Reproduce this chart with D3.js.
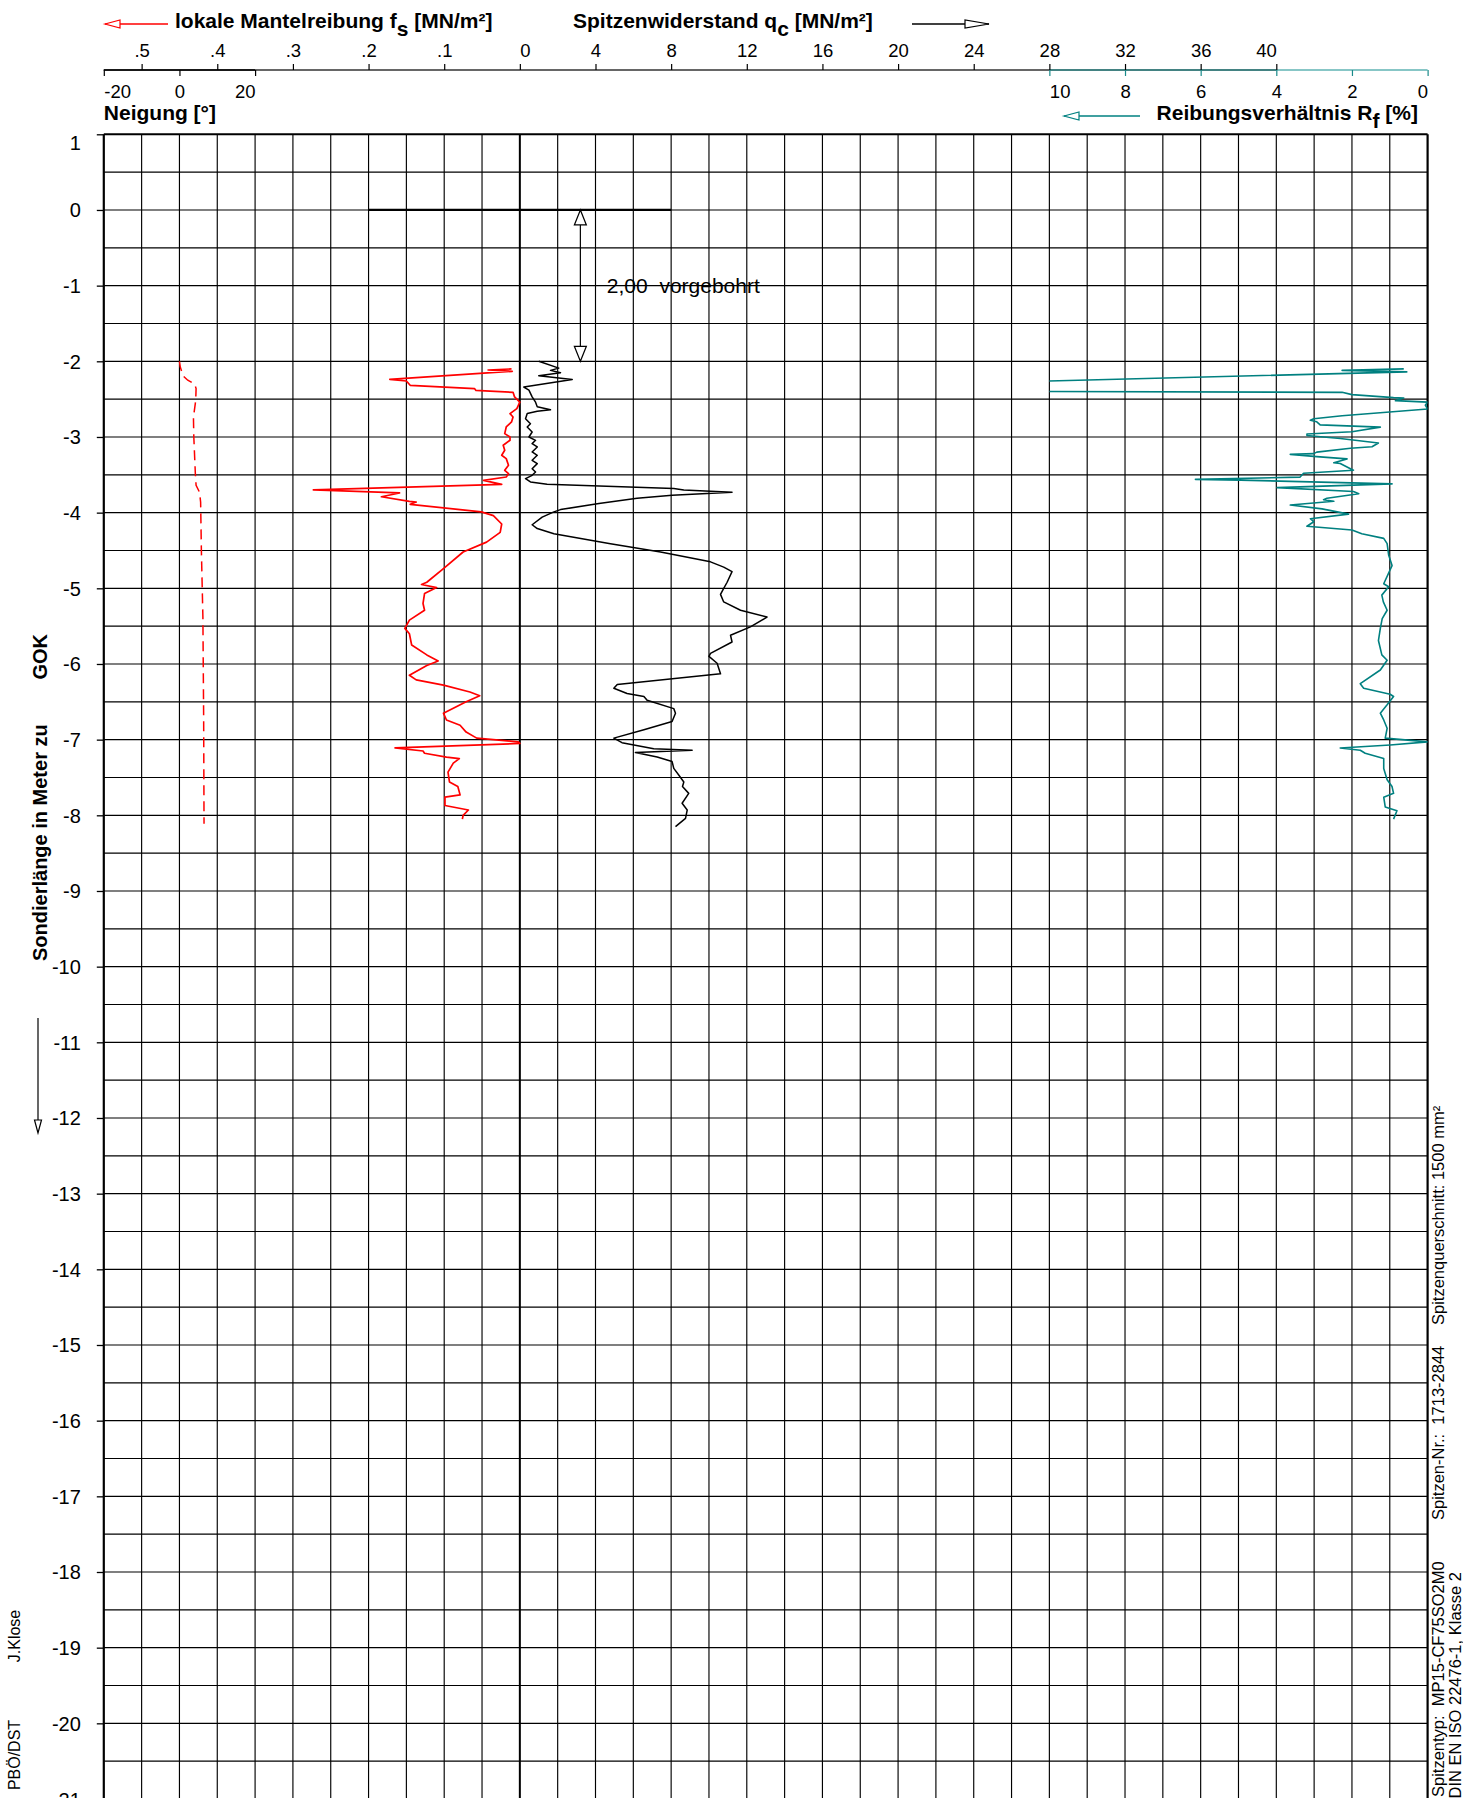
<!DOCTYPE html>
<html><head><meta charset="utf-8">
<script src="https://cdn.jsdelivr.net/npm/d3@7"></script>
<style>
html,body{margin:0;padding:0;background:#fff;}
svg{display:block;}
text{font-family:"Liberation Sans",Arial,Helvetica,sans-serif;fill:#000;}
</style></head><body>
<svg id="chart" width="1463" height="1798"></svg>
<script>
// ---------- tick labels ----------
const fsTicks = [0.5, 0.4, 0.3, 0.2, 0.1];
const fsTickLabels = [".5", ".4", ".3", ".2", ".1"];
const qcTicks = [0, 4, 8, 12, 16, 20, 24, 28, 32, 36, 40];
const neigTicks = [-20, 0, 20];
const rfTicks = [10, 8, 6, 4, 2, 0];
const depthTicks = [1, 0, -1, -2, -3, -4, -5, -6, -7, -8, -9, -10, -11, -12, -13, -14, -15, -16, -17, -18, -19, -20, -21];

// ---------- series ----------
// local sleeve friction fs [MN/m²]
const fsDepth = [-2.101,-2.115,-2.132,-2.238,-2.26,-2.317,-2.36,-2.385,-2.39,-2.41,-2.47,-2.52,-2.54,-2.626,-2.692,-2.736,-2.802,-2.868,-2.956,-3.0,-3.044,-3.11,-3.176,-3.242,-3.286,-3.374,-3.44,-3.485,-3.529,-3.573,-3.626,-3.70,-3.74,-3.79,-3.85,-3.86,-3.89,-3.96,-3.99,-4.04,-4.15,-4.26,-4.39,-4.52,-4.74,-4.92,-4.95,-4.99,-5.07,-5.20,-5.29,-5.42,-5.53,-5.60,-5.75,-5.88,-5.96,-6.02,-6.15,-6.21,-6.28,-6.37,-6.42,-6.50,-6.65,-6.74,-6.81,-6.90,-6.98,-7.03,-7.05,-7.11,-7.15,-7.18,-7.23,-7.25,-7.31,-7.43,-7.56,-7.62,-7.73,-7.76,-7.87,-7.93,-8.00,-8.05];
const fsValue = [0.011,0.042,0.010,0.172,0.150,0.145,0.060,0.058,0.046,0.009,0.007,0.002,0.000,0.004,0.013,0.009,0.011,0.018,0.020,0.013,0.013,0.022,0.020,0.024,0.018,0.015,0.020,0.015,0.018,0.048,0.024,0.273,0.159,0.183,0.146,0.137,0.145,0.079,0.051,0.035,0.024,0.026,0.044,0.075,0.101,0.123,0.130,0.110,0.126,0.128,0.126,0.146,0.152,0.146,0.143,0.123,0.108,0.123,0.146,0.137,0.101,0.066,0.053,0.071,0.101,0.097,0.079,0.071,0.057,0.002,0.000,0.165,0.128,0.126,0.097,0.080,0.088,0.095,0.093,0.082,0.079,0.099,0.099,0.068,0.075,0.076];

// cone resistance qc [MN/m²]
const qcDepth = [-2.00,-2.09,-2.12,-2.15,-2.19,-2.24,-2.34,-2.38,-2.47,-2.54,-2.60,-2.64,-2.66,-2.69,-2.758,-2.824,-2.868,-2.934,-3.0,-3.044,-3.088,-3.132,-3.198,-3.242,-3.308,-3.352,-3.419,-3.463,-3.507,-3.551,-3.595,-3.626,-3.68,-3.70,-3.73,-3.77,-3.81,-3.88,-3.96,-3.99,-4.06,-4.16,-4.21,-4.28,-4.41,-4.52,-4.65,-4.72,-4.78,-4.92,-5.00,-5.08,-5.18,-5.29,-5.38,-5.51,-5.62,-5.71,-5.86,-5.90,-5.99,-6.13,-6.19,-6.27,-6.32,-6.39,-6.43,-6.48,-6.59,-6.65,-6.76,-6.87,-6.98,-7.04,-7.12,-7.14,-7.17,-7.23,-7.29,-7.38,-7.47,-7.56,-7.62,-7.71,-7.84,-7.93,-8.04,-8.15];
const qcValue = [1.00,2.06,1.62,2.15,1.00,2.77,0.21,0.48,0.65,0.83,0.92,1.62,0.92,0.39,0.30,0.56,0.39,0.65,0.48,0.83,0.65,0.92,0.65,0.92,0.65,0.92,0.65,0.83,0.65,0.30,0.56,1.44,8.14,8.67,11.22,8.05,6.20,4.18,2.15,1.80,1.18,0.65,0.92,1.80,4.79,7.44,10.08,10.78,11.22,10.96,10.78,10.61,10.78,11.67,13.07,12.19,11.14,11.22,10.08,10.00,10.43,10.61,8.32,5.15,4.97,5.67,6.56,6.73,8.14,8.23,8.05,6.56,4.97,5.40,7.08,9.11,6.11,7.26,8.05,8.14,8.41,8.67,8.60,8.93,8.58,8.85,8.76,8.23];

// friction ratio Rf [%]
const rfDepth = [-2.10,-2.12,-2.14,-2.285,-2.395,-2.41,-2.44,-2.48,-2.485,-2.52,-2.54,-2.58,-2.63,-2.72,-2.76,-2.78,-2.80,-2.84,-2.87,-2.93,-2.96,-2.98,-3.02,-3.08,-3.13,-3.15,-3.20,-3.22,-3.23,-3.26,-3.29,-3.34,-3.35,-3.42,-3.44,-3.48,-3.53,-3.56,-3.57,-3.62,-3.67,-3.72,-3.75,-3.81,-3.83,-3.85,-3.90,-3.95,-4.02,-4.08,-4.12,-4.18,-4.23,-4.28,-4.34,-4.41,-4.56,-4.70,-4.94,-4.98,-5.09,-5.18,-5.29,-5.40,-5.53,-5.69,-5.88,-5.95,-6.08,-6.26,-6.32,-6.40,-6.43,-6.54,-6.65,-6.74,-6.85,-6.98,-7.03,-7.07,-7.11,-7.14,-7.18,-7.25,-7.38,-7.53,-7.62,-7.71,-7.76,-7.89,-7.94,-8.05];
const rfValue = [0.63,2.26,0.55,12,12,2.26,2.00,0.90,0.63,0.85,0.00,0.06,0.00,2.26,3.01,3.10,2.93,2.84,1.25,2.00,3.19,3.19,2.31,1.30,1.47,2.04,2.93,3.01,3.63,2.93,2.13,2.48,2.31,2.04,1.96,3.28,3.37,6.14,4.95,0.94,3.98,1.96,1.82,2.66,2.75,2.48,3.63,2.79,2.09,3.10,3.01,3.19,2.00,1.74,1.16,1.07,1.03,0.94,1.16,1.03,1.21,1.17,1.07,1.20,1.25,1.30,1.21,1.07,1.25,1.78,1.69,0.99,0.90,1.07,1.25,1.16,1.07,1.12,0.00,0.99,2.31,1.78,1.65,1.16,1.16,1.07,0.94,0.90,1.16,1.12,0.81,0.90];

// inclination [°]
const neigDepth = [-2.00,-2.07,-2.19,-2.25,-2.30,-2.36,-2.52,-2.74,-3.00,-3.48,-3.64,-3.73,-3.86,-4.50,-5.38,-6.70,-8.11];
const neigValue = [0,0.2,0.9,2.2,4.0,4.4,4.3,3.7,3.8,4.2,4.4,5.3,5.6,5.8,6.2,6.4,6.5];

// pre-drilled section
const predrillTop = 0, predrillBottom = -2;

// ---------- layout ----------
const W = 1463, H = 1798;
const X0 = 103.8, X1 = 1427.6, Y0 = 134.3, Y1 = 1799;
const AXY = 70;
const fmtInt = d => String(d);   // plain hyphen minus like the reference

const qc = d3.scaleLinear().domain([-22, 48]).range([X0, X1]);
const fs = d3.scaleLinear().domain([0.55, 0]).range([X0, qc(0)]);
const neig = d3.scaleLinear().domain([-20, 20]).range([X0, qc(-14)]);
const rf = d3.scaleLinear().domain([10, 0]).range([qc(28), X1]);
const y = d3.scaleLinear().domain([1, -21]).range([Y0, Y1]);

const svg = d3.select("#chart");
svg.append("rect").attr("width", W).attr("height", H).attr("fill", "#fff");

const defs = svg.append("defs");
defs.append("clipPath").attr("id", "plotClip").append("rect")
  .attr("x", X0).attr("y", Y0).attr("width", X1 - X0).attr("height", H - Y0);
defs.append("clipPath").attr("id", "rfClip").append("rect")
  .attr("x", rf(10)).attr("y", Y0).attr("width", rf(0) - rf(10)).attr("height", H - Y0);

// ---------- grid ----------
const grid = svg.append("g");
grid.selectAll("line.v").data(d3.range(-22, 48.01, 2)).join("line")
  .attr("x1", d => qc(d)).attr("x2", d => qc(d))
  .attr("y1", Y0).attr("y2", Y1)
  .attr("stroke", "#000")
  .attr("stroke-width", d => (d === 0 ? 2 : (d === -22 || d === 48 ? 2.2 : 1.15)));
grid.selectAll("line.h").data(d3.range(1, -21.01, -0.5)).join("line")
  .attr("x1", X0).attr("x2", X1)
  .attr("y1", d => y(d)).attr("y2", d => y(d))
  .attr("stroke", "#000")
  .attr("stroke-width", d => (d === 1 ? 2 : 1.15));

// ---------- left depth axis ----------
const yAxis = svg.append("g").attr("transform", `translate(${X0},0)`)
  .call(d3.axisLeft(y).tickValues(depthTicks).tickSize(7).tickPadding(16).tickFormat(fmtInt));
yAxis.select(".domain").remove();
yAxis.selectAll("line").attr("stroke", "#000").attr("stroke-width", 1.3);
yAxis.selectAll("text").attr("font-size", 20).attr("font-family", "Liberation Sans, Arial, sans-serif")
  .attr("dy", d => (d === 1 ? "0.75em" : "0.35em"));

// ---------- top axes ----------
svg.append("line").attr("x1", X0).attr("x2", qc(40)).attr("y1", AXY).attr("y2", AXY)
  .attr("stroke", "#333").attr("stroke-width", 1.6);
svg.append("line").attr("x1", neig(-20)).attr("x2", neig(20)).attr("y1", AXY).attr("y2", AXY)
  .attr("stroke", "#000").attr("stroke-width", 1.6);
svg.append("line").attr("x1", rf(10)).attr("x2", rf(0)).attr("y1", AXY).attr("y2", AXY)
  .attr("stroke", "#2a9a9a").attr("stroke-width", 1.6).attr("opacity", 0.75);

const fsAxis = svg.append("g").attr("transform", `translate(0,${AXY})`)
  .call(d3.axisTop(fs).tickValues(fsTicks).tickSize(6).tickPadding(7)
    .tickFormat((d, i) => fsTickLabels[i]));
const qcAxis = svg.append("g").attr("transform", `translate(0,${AXY})`)
  .call(d3.axisTop(qc).tickValues(qcTicks).tickSize(6).tickPadding(7).tickFormat(fmtInt));
qcAxis.selectAll(".tick text").attr("text-anchor", d => (d === 0 ? "start" : d === 40 ? "end" : "middle"));
const neigAxis = svg.append("g").attr("transform", `translate(0,${AXY})`)
  .call(d3.axisBottom(neig).tickValues(neigTicks).tickSize(6).tickPadding(9).tickFormat(fmtInt));
neigAxis.selectAll(".tick text").attr("text-anchor", d => (d === -20 ? "start" : d === 20 ? "end" : "middle"));
const rfAxis = svg.append("g").attr("transform", `translate(0,${AXY})`)
  .call(d3.axisBottom(rf).tickValues(rfTicks).tickSize(6).tickPadding(9).tickFormat(fmtInt));
rfAxis.selectAll(".tick text").attr("text-anchor", d => (d === 10 ? "start" : d === 0 ? "end" : "middle"));
rfAxis.selectAll(".tick line").attr("stroke", "#1a8a8a");

[fsAxis, qcAxis, neigAxis, rfAxis].forEach(a => {
  a.select(".domain").remove();
  a.selectAll("text").attr("font-size", 18.5).attr("font-family", "Liberation Sans, Arial, sans-serif");
  a.selectAll(".tick line").attr("stroke-width", 1.2);
});

// ---------- axis titles ----------
function titleWithSub(x, yb, main, sub, rest, anchor) {
  const t = svg.append("text").attr("x", x).attr("y", yb)
    .attr("font-size", 21).attr("font-weight", "bold").attr("text-anchor", anchor || "start");
  t.append("tspan").text(main);
  t.append("tspan").attr("dy", 8).text(sub);
  t.append("tspan").attr("dy", -8).text(rest);
  return t;
}
titleWithSub(175, 28, "lokale Mantelreibung f", "s", " [MN/m²]");
titleWithSub(573, 28, "Spitzenwiderstand q", "c", " [MN/m²]");
titleWithSub(1418, 120, "Reibungsverhältnis R", "f", " [%]", "end");
svg.append("text").attr("x", X0).attr("y", 120).attr("font-size", 21).attr("font-weight", "bold")
  .text("Neigung [°]");

// open-triangle arrowhead
function arrowHead(tx, ty, dir, len, half, color) {
  let p;
  if (dir === "left") p = `M${tx},${ty}L${tx + len},${ty - half}L${tx + len},${ty + half}Z`;
  if (dir === "right") p = `M${tx},${ty}L${tx - len},${ty - half}L${tx - len},${ty + half}Z`;
  if (dir === "up") p = `M${tx},${ty}L${tx - half},${ty + len}L${tx + half},${ty + len}Z`;
  if (dir === "down") p = `M${tx},${ty}L${tx - half},${ty - len}L${tx + half},${ty - len}Z`;
  svg.append("path").attr("d", p).attr("fill", "#fff").attr("stroke", color).attr("stroke-width", 1.2);
}
function legendArrow(xa, xb, yy, dir, color) {
  svg.append("line").attr("x1", xa).attr("x2", xb).attr("y1", yy).attr("y2", yy)
    .attr("stroke", color).attr("stroke-width", 1.5);
  if (dir === "left") arrowHead(xa, yy, "left", 15, 4, color);
  else arrowHead(xb, yy, "right", 24, 4, color);
}
legendArrow(105, 168, 24, "left", "#ff0000");
legendArrow(912, 989, 24, "right", "#000");
legendArrow(1064, 1140, 116, "left", "#008080");

// ---------- y axis title ----------
svg.append("text").attr("transform", `translate(47,961) rotate(-90)`)
  .attr("font-size", 20).attr("font-weight", "bold").text("Sondierlänge in Meter zu");
svg.append("text").attr("transform", `translate(47,634) rotate(-90)`)
  .attr("font-size", 20).attr("font-weight", "bold").attr("text-anchor", "end").text("GOK");
svg.append("line").attr("x1", 38).attr("x2", 38).attr("y1", 1018).attr("y2", 1120)
  .attr("stroke", "#000").attr("stroke-width", 1.2);
arrowHead(38, 1133, "down", 13, 3.5, "#000");

// ---------- side notes ----------
svg.append("text").attr("transform", "translate(20,1636) rotate(-90)")
  .attr("font-size", 16).attr("text-anchor", "middle").text("J.Klose");
svg.append("text").attr("transform", "translate(20,1755) rotate(-90)")
  .attr("font-size", 16).attr("text-anchor", "middle").text("PBÖ/DST");

svg.append("text").attr("transform", "translate(1444,1797) rotate(-90)")
  .attr("font-size", 16.5).style("white-space", "pre").text("Spitzentyp:  MP15-CF75SO2M0");
svg.append("text").attr("transform", "translate(1444,1520) rotate(-90)")
  .attr("font-size", 16.5).style("white-space", "pre").text("Spitzen-Nr.:  1713-2844");
svg.append("text").attr("transform", "translate(1444,1325) rotate(-90)")
  .attr("font-size", 16.5).style("white-space", "pre").text("Spitzenquerschnitt: 1500 mm²");
svg.append("text").attr("transform", "translate(1461,1572) rotate(-90)")
  .attr("font-size", 16.5).attr("text-anchor", "end").text("DIN EN ISO 22476-1, Klasse 2");

// ---------- pre-drilling annotation ----------
svg.append("line").attr("x1", fs(0.2)).attr("x2", qc(8)).attr("y1", y(predrillTop)).attr("y2", y(predrillTop))
  .attr("stroke", "#000").attr("stroke-width", 2.2);
const ax = qc(3.2);
svg.append("line").attr("x1", ax).attr("x2", ax).attr("y1", y(predrillTop) + 14).attr("y2", y(predrillBottom) - 14)
  .attr("stroke", "#000").attr("stroke-width", 1.2);
arrowHead(ax, y(predrillTop), "up", 15, 6, "#000");
arrowHead(ax, y(predrillBottom), "down", 15, 6, "#000");
svg.append("text").attr("x", qc(4.6)).attr("y", y(-1) + 7).attr("font-size", 21)
  .style("white-space", "pre").text("2,00  vorgebohrt");

// ---------- curves ----------
const plot = svg.append("g").attr("clip-path", "url(#plotClip)");
const zip = (a, b) => a.map((d, i) => [d, b[i]]);

plot.append("path").datum(zip(neigDepth, neigValue))
  .attr("d", d3.line().x(d => neig(d[1])).y(d => y(d[0])))
  .attr("fill", "none").attr("stroke", "#ff0000").attr("stroke-width", 1.5)
  .attr("stroke-dasharray", "10,6");

plot.append("path").datum(zip(fsDepth, fsValue))
  .attr("d", d3.line().x(d => fs(d[1])).y(d => y(d[0])))
  .attr("fill", "none").attr("stroke", "#ff0000").attr("stroke-width", 1.7).attr("stroke-linejoin", "round");

plot.append("path").datum(zip(qcDepth, qcValue))
  .attr("d", d3.line().x(d => qc(d[1])).y(d => y(d[0])))
  .attr("fill", "none").attr("stroke", "#000").attr("stroke-width", 1.5).attr("stroke-linejoin", "round");

svg.append("g").attr("clip-path", "url(#rfClip)").append("path").datum(zip(rfDepth, rfValue))
  .attr("d", d3.line().x(d => rf(d[1])).y(d => y(d[0])))
  .attr("fill", "none").attr("stroke", "#008080").attr("stroke-width", 1.6).attr("stroke-linejoin", "round");
</script>
</body></html>
